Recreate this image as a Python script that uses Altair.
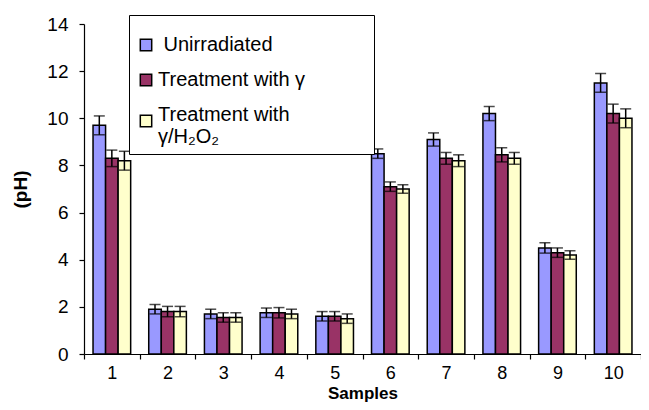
import altair as alt
import pandas as pd

samples = ["1", "2", "3", "4", "5", "6", "7", "8", "9", "10"]
series_names = ["Unirradiated", "Treatment with γ", "Treatment with γ/H₂O₂"]
colors = ["#9999FF", "#993366", "#FFFFCC"]

unirradiated = [9.7, 1.9, 1.7, 1.75, 1.6, 8.5, 9.1, 10.2, 4.5, 11.5]
gamma = [8.3, 1.8, 1.55, 1.75, 1.6, 7.1, 8.3, 8.45, 4.3, 10.2]
gamma_h2o2 = [8.2, 1.8, 1.55, 1.7, 1.5, 7.0, 8.2, 8.3, 4.2, 10.0]

unirradiated_err = [0.4, 0.2, 0.2, 0.2, 0.2, 0.2, 0.28, 0.3, 0.22, 0.4]
gamma_err = [0.35, 0.22, 0.2, 0.22, 0.2, 0.2, 0.25, 0.3, 0.2, 0.4]
gamma_h2o2_err = [0.4, 0.22, 0.2, 0.2, 0.2, 0.18, 0.25, 0.25, 0.18, 0.4]

rows = []
for name, vals, errs in zip(series_names,
                            [unirradiated, gamma, gamma_h2o2],
                            [unirradiated_err, gamma_err, gamma_h2o2_err]):
    for s, v, e in zip(samples, vals, errs):
        rows.append({"Sample": s, "Series": name, "pH": v,
                     "lo": v - e, "hi": v + e})
df = pd.DataFrame(rows)

FONT = "Liberation Sans"
nb = "\u00a0"
zw = "\u200b"

x_enc = alt.X("Sample:N", sort=samples, title="Samples",
              scale=alt.Scale(paddingInner=0, paddingOuter=0),
              axis=alt.Axis(labelAngle=0, tickBand="extent", tickSize=5,
                            labelFontSize=18, labelPadding=5,
                            titleFontSize=17, titleFontWeight="bold",
                            titleBaseline="alphabetic", titleY=44,
                            domainColor="black",
                            tickColor="black", labelColor="black",
                            titleColor="black", domainWidth=1.2,
                            tickWidth=1.2))
xoff = alt.XOffset("Series:N", sort=series_names,
                   scale=alt.Scale(paddingInner=0, paddingOuter=0.72))
color_enc = alt.Color(
    "Series:N", sort=series_names,
    scale=alt.Scale(domain=series_names, range=colors),
    legend=alt.Legend(
        orient="none", legendX=45, legendY=-9, title=" ",
        titleFontSize=2, titlePadding=11, padding=7,
        fillColor="white", strokeColor="black",
        symbolType="square", symbolSize=130, symbolStrokeColor="black",
        symbolStrokeWidth=1.5, symbolOpacity=1,
        labelFontSize=20, labelColor="black", labelOffset=2,
        rowPadding=15, labelLimit=400,
        labelBaseline={"expr": "datum.value == 'Treatment with γ/H₂O₂' ? 'alphabetic' : 'middle'"},
        labelExpr=("datum.label == 'Treatment with γ/H₂O₂' ? "
                   "['Treatment with', 'γ/H₂O₂'] : "
                   "datum.label == 'Treatment with γ' ? 'Treatment with γ"
                   + nb * 11 + zw + "' : '" + zw + " ' + datum.label"),
    ))

y_scale = alt.Scale(domain=[0, 14], nice=False)
y_axis = alt.Axis(values=list(range(0, 15, 2)), tickSize=5,
                  labelFontSize=19, labelPadding=11, titleFontSize=19,
                  titleFontWeight="bold", titlePadding=16, grid=False,
                  domainColor="black", tickColor="black",
                  labelColor="black", titleColor="black",
                  domainWidth=1.2, tickWidth=1.2)

base = alt.Chart(df)
bars = base.mark_bar(stroke="black", strokeWidth=1.5, opacity=1).encode(
    x=x_enc, xOffset=xoff,
    y=alt.Y("pH:Q", scale=y_scale, axis=y_axis, title="(pH)"),
    color=color_enc,
)
rules = base.mark_rule(color="black", strokeWidth=1.5).encode(
    x=alt.X("Sample:N", sort=samples), xOffset=xoff,
    y="lo:Q", y2="hi:Q",
)
caps_hi = base.mark_tick(color="black", size=11, thickness=1.5).encode(
    x=alt.X("Sample:N", sort=samples), xOffset=xoff, y="hi:Q",
)
caps_lo = base.mark_tick(color="black", size=11, thickness=1.5).encode(
    x=alt.X("Sample:N", sort=samples), xOffset=xoff, y="lo:Q",
)

chart = alt.layer(bars, rules, caps_hi, caps_lo).properties(
    width=557, height=330,
    autosize=alt.AutoSizeParams(type="none"),
    padding={"left": 76, "top": 16, "right": 0, "bottom": 48},
).configure(font=FONT).configure_view(stroke=None)

chart.save("out.html", embed_options={"renderer": "svg", "actions": False})
